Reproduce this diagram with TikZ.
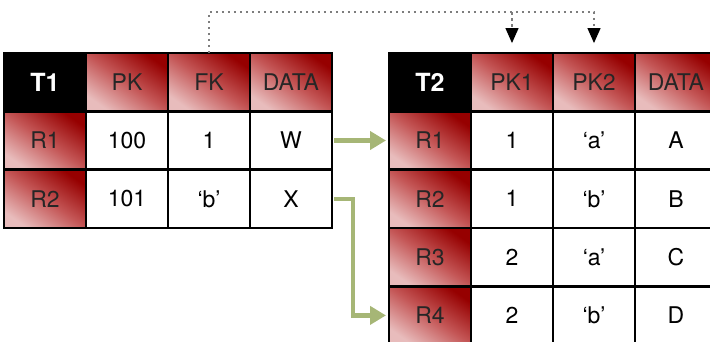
\documentclass[tikz,border=0pt]{standalone}
\usepackage{fontspec}
\setmainfont{TeX Gyre Heros}
\usetikzlibrary{arrows.meta}
\definecolor{keyred}{RGB}{150,0,0}
\definecolor{keymid}{RGB}{196,86,86}
\definecolor{keypink}{RGB}{232,188,188}
\definecolor{linkgreen}{RGB}{166,182,118}
\definecolor{refgray}{RGB}{125,125,125}

\begin{document}
\begin{tikzpicture}[x=1pt, y=-1pt, font=\fontsize{23}{26}\selectfont]
  % Styles for the table cells and the links
  \tikzset{cell/.style={draw=black, line width=2.5pt, fill=white, minimum width=82pt, minimum height=58.3pt, inner sep=0pt, outer sep=0pt}}
  \tikzset{key/.style={cell, top color=keyred, bottom color=keypink, middle color=keymid, shading angle=-35, text=black!85}}
  \tikzset{corner/.style={cell, fill=black, text=white, font=\fontsize{25}{28}\selectfont\bfseries}}
  \tikzset{flow/.style={draw=linkgreen, line width=4.5pt, -{Triangle[length=16pt, width=18pt]}, shorten <=2pt, shorten >=3pt}}
  \tikzset{ref/.style={draw=refgray, line width=1.3pt, dash pattern=on 2.5pt off 3.5pt}}
  \tikzset{reftip/.style={ref, -{Triangle[length=15pt, width=13pt, color=black]}, shorten >=10pt}}

  \useasboundingbox (0,0) rectangle (710,341);
  \clip (0,0) rectangle (710,341);

  % --- Table T1 ---
  \node[corner] (t1-0-1) at (45,82.2) {T1};
  \foreach \lab [count=\c from 2] in {PK,FK,DATA}
    \node[key] (t1-0-\c) at ({45+82*(\c-1)},82.2) {\lab};
  \foreach \lab/\a/\b/\v [count=\r] in {R1/100/1/W, R2/101/‘b’/X} {
    \node[key]  (t1-\r-1) at (45,{82.2+58.3*\r}) {\lab};
    \node[cell] (t1-\r-2) at (127,{82.2+58.3*\r}) {\a};
    \node[cell] (t1-\r-3) at (209,{82.2+58.3*\r}) {\b};
    \node[cell] (t1-\r-4) at (291,{82.2+58.3*\r}) {\v};
  }

  % --- Table T2 ---
  \node[corner] (t2-0-1) at (430,82.2) {T2};
  \foreach \lab [count=\c from 2] in {PK1,PK2,DATA}
    \node[key] (t2-0-\c) at ({430+82*(\c-1)},82.2) {\lab};
  \foreach \lab/\a/\b/\v [count=\r] in {R1/1/‘a’/A, R2/1/‘b’/B, R3/2/‘a’/C, R4/2/‘b’/D} {
    \node[key]  (t2-\r-1) at (430,{82.2+58.3*\r}) {\lab};
    \node[cell] (t2-\r-2) at (512,{82.2+58.3*\r}) {\a};
    \node[cell] (t2-\r-3) at (594,{82.2+58.3*\r}) {\b};
    \node[cell] (t2-\r-4) at (676,{82.2+58.3*\r}) {\v};
  }

  % Row links
  \draw[flow] (t1-1-4.east) -- (t2-1-1.west);
  \draw[flow] (t1-2-4.east) -- ++(21,0) |- (t2-4-1.west);

  % Foreign key reference (dotted)
  \coordinate (bus) at (0,12);
  \draw[reftip] (t1-0-3.north) -- (t1-0-3.north |- bus) -| (t2-0-3.north);
  \draw[reftip] (t2-0-2.north |- bus) -- (t2-0-2.north);
\end{tikzpicture}
\end{document}
